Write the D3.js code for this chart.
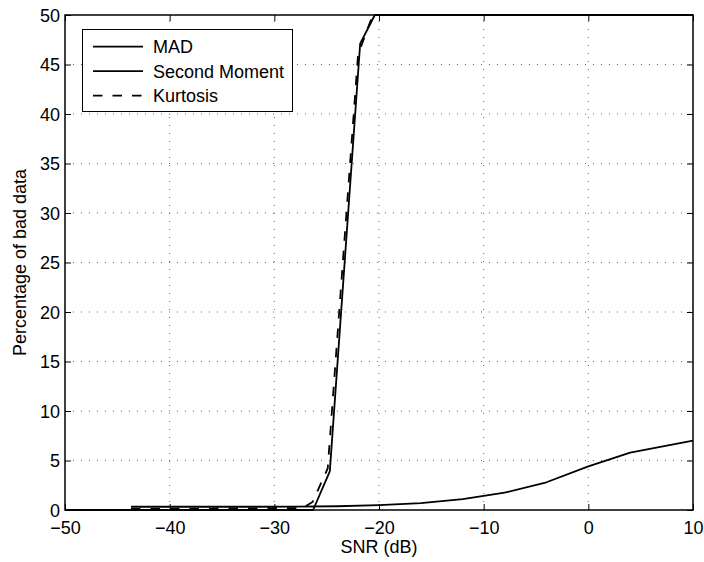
<!DOCTYPE html>
<html>
<head>
<meta charset="utf-8">
<script src="https://cdn.jsdelivr.net/npm/d3@7"></script>
<style>
  body { margin: 0; background: #fff; }
  text { font-family: "Liberation Sans", Arial, sans-serif; fill: #000; }
</style>
</head>
<body>
<div id="viz"></div>
<script>
// values
const xTicks = [-50, -40, -30, -20, -10, 0, 10];
const yTicks = [0, 5, 10, 15, 20, 25, 30, 35, 40, 45, 50];

const madX = [-43.7, -40, -36, -32, -28, -24, -20, -16, -12, -8, -4, 0, 4, 8, 10];
const madY = [0.33, 0.33, 0.33, 0.33, 0.35, 0.38, 0.5, 0.7, 1.1, 1.75, 2.8, 4.4, 5.8, 6.6, 7.0];

const secondX = [-50, -26.3, -24.7, -21.8, -20.4, 10];
const secondY = [0, 0, 3.9, 47.1, 50, 50];

const kurtX = [-43.7, -27.3, -26.35, -24.9, -22.0, -20.6, 10];
const kurtY = [0.1, 0.2, 0.8, 4.2, 46, 50, 50];

const seriesNames = ['MAD', 'Second Moment', 'Kurtosis'];

const width = 704;
const height = 562;
const margin = { left: 65, right: 11, top: 15, bottom: 52 };
const FONT = 18;

const x = d3.scaleLinear().domain([-50, 10]).range([margin.left, width - margin.right]);
const y = d3.scaleLinear().domain([0, 50]).range([height - margin.bottom, margin.top]);

const svg = d3.select('#viz')
  .append('svg')
  .attr('width', width)
  .attr('height', height);

// dotted grid
svg.append('g')
  .selectAll('line')
  .data(xTicks.slice(1, -1))
  .enter()
  .append('line')
  .attr('x1', d => x(d)).attr('x2', d => x(d))
  .attr('y1', y(0)).attr('y2', y(50))
  .style('stroke', '#666')
  .style('stroke-width', 1)
  .style('stroke-dasharray', '1,7');

svg.append('g')
  .selectAll('line')
  .data(yTicks.slice(1, -1))
  .enter()
  .append('line')
  .attr('x1', x(-50)).attr('x2', x(10))
  .attr('y1', d => y(d)).attr('y2', d => y(d))
  .style('stroke', '#666')
  .style('stroke-width', 1)
  .style('stroke-dasharray', '1,7');

// curves
const line = d3.line().x(d => x(d[0])).y(d => y(d[1]));
const curves = [
  { xs: madX, ys: madY, dash: null },
  { xs: secondX, ys: secondY, dash: null },
  { xs: kurtX, ys: kurtY, dash: '9.5,10' }
];

const plot = svg.append('g');
curves.forEach(c => {
  plot.append('path')
    .datum(c.xs.map((v, i) => [v, c.ys[i]]))
    .attr('d', line)
    .style('fill', 'none')
    .style('stroke', '#000')
    .style('stroke-width', 1.8)
    .style('stroke-linejoin', 'round')
    .style('stroke-dasharray', c.dash);
});

// axes: inward ticks on every side, like matlab
const tickLen = 6;
const axisBottom = d3.axisBottom(x).tickValues(xTicks).tickSizeInner(-tickLen).tickSizeOuter(0)
  .tickFormat(d => d < 0 ? '\u2212' + Math.abs(d) : d);
const axisTop = d3.axisTop(x).tickValues(xTicks).tickSizeInner(-tickLen).tickSizeOuter(0).tickFormat('');
const axisLeft = d3.axisLeft(y).tickValues(yTicks).tickSizeInner(-tickLen).tickSizeOuter(0);
const axisRight = d3.axisRight(y).tickValues(yTicks).tickSizeInner(-tickLen).tickSizeOuter(0).tickFormat('');

const styleAxis = g => {
  g.select('.domain').remove();
  g.selectAll('line').style('stroke', '#000').style('stroke-width', 1);
  g.selectAll('text')
    .style('font-family', '"Liberation Sans", Arial, sans-serif')
    .style('font-size', FONT + 'px')
    .attr('fill', '#000');
};

svg.append('g').attr('transform', `translate(0,${y(0)})`).call(axisBottom).call(styleAxis)
  .selectAll('text').attr('y', 11).attr('dy', '0.71em');
svg.append('g').attr('transform', `translate(0,${y(50)})`).call(axisTop).call(styleAxis);
svg.append('g').attr('transform', `translate(${x(-50)},0)`).call(axisLeft).call(styleAxis)
  .selectAll('text').attr('x', -5).attr('dy', '0.34em');
svg.append('g').attr('transform', `translate(${x(10)},0)`).call(axisRight).call(styleAxis);

// frame
svg.append('rect')
  .attr('x', x(-50)).attr('y', y(50))
  .attr('width', x(10) - x(-50)).attr('height', y(0) - y(50))
  .style('fill', 'none')
  .style('stroke', '#000')
  .style('stroke-width', 1.5);

// axis labels
svg.append('text')
  .attr('x', (x(-50) + x(10)) / 2)
  .attr('y', 553)
  .attr('text-anchor', 'middle')
  .style('font-size', FONT + 'px')
  .text('SNR (dB)');

svg.append('text')
  .attr('transform', `translate(26,${(y(0) + y(50)) / 2}) rotate(-90)`)
  .attr('text-anchor', 'middle')
  .style('font-size', FONT + 'px')
  .text('Percentage of bad data');

// legend
const legend = svg.append('g');
legend.append('rect')
  .attr('x', 82.5).attr('y', 29.5)
  .attr('width', 210).attr('height', 82)
  .style('fill', '#fff')
  .style('stroke', '#000')
  .style('stroke-width', 1);

seriesNames.forEach((name, i) => {
  const cy = 46.7 + i * 24.5;
  legend.append('line')
    .attr('x1', 93).attr('x2', 143)
    .attr('y1', cy).attr('y2', cy)
    .style('stroke', '#000')
    .style('stroke-width', 1.8)
    .style('stroke-dasharray', curves[i].dash);
  legend.append('text')
    .attr('x', 153)
    .attr('y', cy + 6.3)
    .style('font-size', FONT + 'px')
    .text(name);
});
</script>
</body>
</html>
